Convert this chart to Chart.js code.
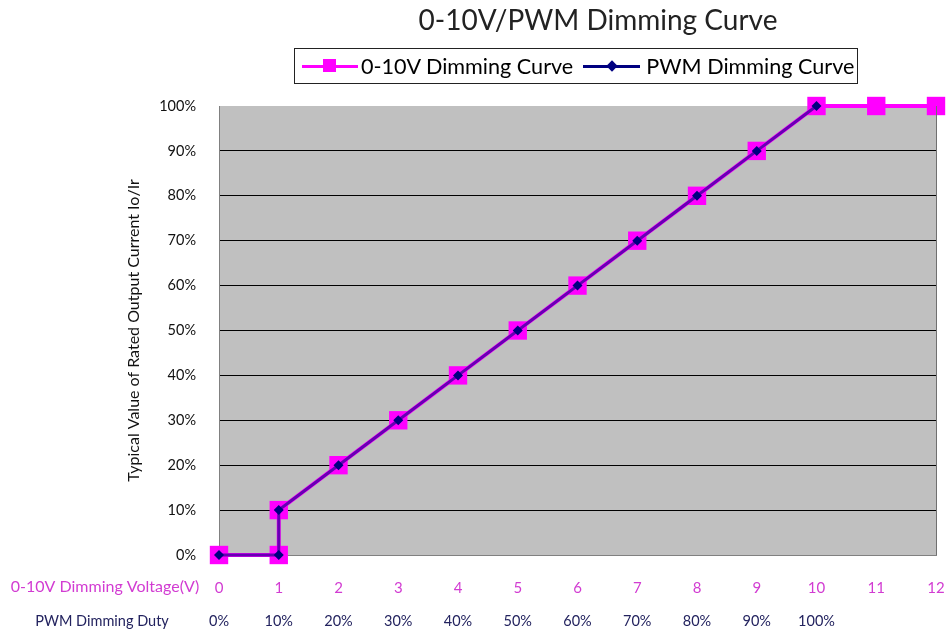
<!DOCTYPE html>
<html>
<head>
<meta charset="utf-8">
<script src="https://cdn.jsdelivr.net/npm/chart.js@4.4.1/dist/chart.umd.min.js"></script>
<style>
  body { margin: 0; background: #fff; font-family: Lato, "Open Sans", sans-serif; }
  #wrap { position: relative; width: 949px; height: 635px; }
  #title { position: absolute; left: 398px; width: 400px; top: 2px; text-align: center;
    font-size: 28px; color: #222; }
  #legend { position: absolute; left: 294px; top: 48px; width: 562px; height: 34px;
    border: 1px solid #222; display: flex; align-items: center;
    font-size: 21.6px; color: #000; box-sizing: content-box; }
  .item { display: flex; align-items: center; }
  .mark { position: relative; height: 14px; }
  .mark .ln { position: absolute; left: 0; right: 0; top: 6px; height: 3px; }
  .mark .pt { position: absolute; }
</style>
</head>
<body>
<div id="wrap">
  <canvas id="dimChart"></canvas>
  <div id="title">0-10V/PWM Dimming Curve</div>
  <div id="legend">
    <div class="item" style="margin-left:7px">
      <div class="mark" style="width:56px;margin-right:3px"><div class="ln" style="background:#ff00ff"></div>
        <div class="pt" style="left:21px;top:0;width:13px;height:13px;background:#ff00ff"></div></div>
      <span>0-10V Dimming Curve</span>
    </div>
    <div class="item" style="margin-left:10px">
      <div class="mark" style="width:57px;margin-right:6px"><div class="ln" style="background:#000080"></div>
        <div class="pt" style="left:25px;top:3px;width:8px;height:8px;background:#000080;transform:rotate(45deg)"></div></div>
      <span>PWM Dimming Curve</span>
    </div>
  </div>
</div>
<script>
// 0-10V dimming: control voltage (V) -> output current (% of rated)
const voltage = [0, 1, 1, 2, 3, 4, 5, 6, 7, 8, 9, 10, 11, 12];
const voltageOutput = [0, 0, 10, 20, 30, 40, 50, 60, 70, 80, 90, 100, 100, 100];

// PWM dimming: duty (%) -> output current (% of rated)
const pwmDuty = [0, 10, 10, 20, 30, 40, 50, 60, 70, 80, 90, 100];
const pwmOutput = [0, 0, 10, 20, 30, 40, 50, 60, 70, 80, 90, 100];

const voltColor = "#d23cd2";
const dutyColor = "#23235f";

const plotBg = {
  id: "plotBg",
  beforeDraw(chart) {
    const { ctx, chartArea: a } = chart;
    ctx.save();
    ctx.fillStyle = "#c0c0c0";
    ctx.fillRect(a.left, a.top, a.right - a.left, a.bottom - a.top);
    ctx.restore();
  },
  afterDraw(chart) {
    const { ctx, chartArea: a, scales } = chart;
    ctx.save();
    ctx.strokeStyle = "#707070";
    ctx.lineWidth = 1;
    ctx.beginPath();
    ctx.moveTo(a.right + 0.5, a.top);
    ctx.lineTo(a.right + 0.5, a.bottom);
    ctx.stroke();
    // row titles for the two x axes
    ctx.textAlign = "center";
    ctx.textBaseline = "middle";
    ctx.font = "16px Lato";
    ctx.fillStyle = voltColor;
    ctx.fillText("0-10V Dimming Voltage(V)", 105, scales.x.top + scales.x.options.ticks.padding + 8);
    ctx.font = "14.5px Lato";
    ctx.fillStyle = dutyColor;
    ctx.fillText("PWM Dimming Duty", 102, scales.x2.top + scales.x2.options.ticks.padding + 8);
    ctx.restore();
  },
};

const noSidePad = (h) => (s) => {
  s.height = h;
  s.paddingLeft = 0;
  s.paddingRight = 0;
};

new Chart(document.getElementById("dimChart"), {
  type: "line",
  data: {
    datasets: [
      {
        label: "PWM Dimming Curve",
        data: pwmDuty.map((d, i) => ({ x: d, y: pwmOutput[i] })),
        xAxisID: "x2",
        borderColor: "rgba(0, 0, 128, 0.6)",
        borderWidth: 3,
        pointStyle: "rectRot",
        pointRadius: 5,
        pointBackgroundColor: "#000080",
        pointBorderWidth: 0,
        tension: 0,
        clip: false,
      },
      {
        label: "0-10V Dimming Curve",
        data: voltage.map((v, i) => ({ x: v, y: voltageOutput[i] })),
        xAxisID: "x",
        borderColor: "#ff00ff",
        borderWidth: 4,
        pointStyle: "rect",
        pointRadius: 13,
        pointBackgroundColor: "#ff00ff",
        pointBorderWidth: 0,
        tension: 0,
        clip: false,
      },
    ],
  },
  options: {
    responsive: true,
    maintainAspectRatio: false,
    animation: false,
    layout: { padding: { top: 106, left: 120, right: 11, bottom: 0 } },
    plugins: {
      legend: { display: false },
      title: { display: false },
      tooltip: { enabled: false },
    },
    scales: {
      y: {
        min: 0,
        max: 100,
        afterFit(s) { s.width = 99; s.paddingTop = 0; s.paddingBottom = 0; },
        ticks: {
          stepSize: 10,
          padding: 23,
          color: "#111",
          font: { family: "Lato", size: 14.5 },
          callback: (v) => v + "%",
        },
        grid: {
          drawTicks: false,
          color: (c) => (c.tick.value > 0 && c.tick.value < 100 ? "#000" : "rgba(0,0,0,0)"),
        },
        border: { display: true, color: "#808080" },
        title: {
          display: true,
          text: "Typical Value of Rated Output Current Io/Ir",
          color: "#111",
          font: { family: "Lato", size: 16 },
          padding: { top: 4, bottom: 0 },
        },
      },
      x: {
        type: "linear",
        position: "bottom",
        weight: 0,
        min: 0,
        max: 12,
        afterFit: noSidePad(42),
        ticks: {
          stepSize: 1,
          padding: 24,
          color: voltColor,
          font: { family: "Lato", size: 15 },
        },
        grid: { display: false, drawTicks: false },
        border: { display: true, color: "#808080" },
      },
      x2: {
        type: "linear",
        position: "bottom",
        weight: 1,
        min: 0,
        max: 120,
        afterFit: noSidePad(38),
        ticks: {
          stepSize: 10,
          padding: 16,
          color: dutyColor,
          font: { family: "Lato", size: 14.5 },
          callback: (v) => (v <= 100 ? v + "%" : ""),
        },
        grid: { display: false, drawTicks: false },
        border: { display: false },
      },
    },
  },
  plugins: [plotBg],
});
</script>
</body>
</html>
